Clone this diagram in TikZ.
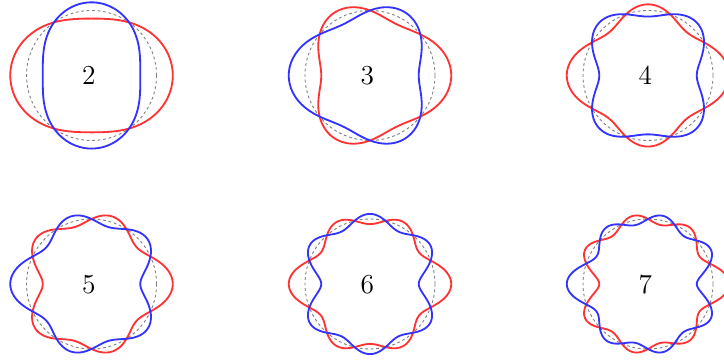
\documentclass[tikz,border=0pt]{standalone}
\usepackage{amsmath}
\usepackage{amssymb}
\usepackage{xcolor}
\usepackage{tikz}

\begin{document}
\begin{tikzpicture}[
    declare function={
        leg2(\t)=(3*\t*\t-1)/2;
        leg3(\t)=(5*\t*\t*\t-3*\t)/2;
        leg4(\t)=(35*\t*\t*\t*\t-30*\t*\t+3)/8;
        leg5(\t)=(63*\t*\t*\t*\t*\t-70*\t*\t*\t+15*\t)/8;
        leg6(\t)=(231*\t*\t*\t*\t*\t*\t-315*\t*\t*\t*\t+105*\t*\t-5)/16;
        leg7(\t)=(429*\t*\t*\t*\t*\t*\t*\t-693*\t*\t*\t*\t*\t+315*\t*\t*\t-35*\t)/16;
    },
    rest/.style={gray, dash pattern=on 1.2pt off 1.2pt, line width=0.4pt},
    modeplus/.style={red!80, line width=0.8pt},
    modeminus/.style={blue!80, line width=0.8pt}]
    \useasboundingbox (0,0) rectangle (11.138,5.569);
    \clip (0,0) rectangle (11.138,5.569);
    \foreach \n/\cx/\cy in {2/1.408/4.408, 3/5.692/4.408, 4/9.969/4.408,
                            5/1.408/1.200, 6/5.692/1.200, 7/9.969/1.200} {
        \begin{scope}[shift={(\cx,\cy)}]
            \draw[rest] (0,0) circle (1);
            \draw[modeplus] plot[domain=0:360, samples=241] (\x:{1+0.25*leg\n(cos(\x))}) -- cycle;
            \draw[modeminus] plot[domain=0:360, samples=241] (\x:{1-0.25*leg\n(cos(\x))}) -- cycle;
            \node[font=\large] (lbl\n) at (-0.04,-0.01) {$\n$};
        \end{scope}
    }
\end{tikzpicture}
\end{document}
